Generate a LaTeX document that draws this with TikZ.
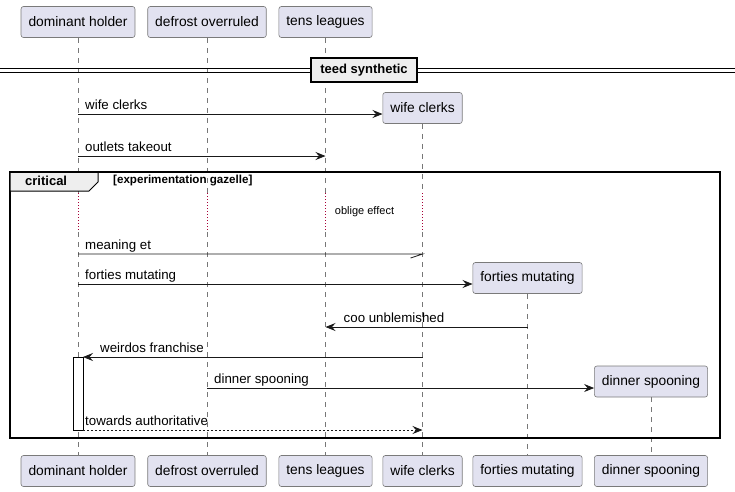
\documentclass[tikz,border=0pt]{standalone}
\usepackage{fontspec}
\setmainfont{Liberation Sans}
\usetikzlibrary{arrows.meta,calc}
\definecolor{partfill}{HTML}{E2E2F0}
\definecolor{partline}{HTML}{7A7A7A}
\definecolor{grpfill}{HTML}{EEEEEE}
\definecolor{delaycol}{HTML}{A80036}
\definecolor{lifecol}{HTML}{777777}
\begin{document}
\begin{tikzpicture}[x=1pt,y=-1pt,
  part/.style={draw=partline, fill=partfill, rounded corners=2.5pt, line width=0.6pt,
    font=\fontsize{13.8}{16}\selectfont, inner xsep=7.5pt, minimum height=31pt, anchor=center},
  life/.style={draw=lifecol, line width=0.6pt, dash pattern=on 5pt off 5pt},
  delayline/.style={draw=delaycol, line width=0.6pt, dash pattern=on 1pt off 2pt},
  tip/.style={-{Stealth[length=10pt,width=8pt,inset=3.5pt]}},
  msg/.style={draw=black!90, line width=0.8pt, tip},
  ret/.style={msg, dash pattern=on 2pt off 2pt},
  lbl/.style={font=\fontsize{13.3}{15}\selectfont, inner sep=0pt, anchor=base west},
  grp/.style={draw=black, line width=1.5pt},
  bold/.style={font=\bfseries\fontsize{13}{15}\selectfont, inner sep=0pt},
  smallbold/.style={font=\bfseries\fontsize{11.6}{13}\selectfont, inner sep=0pt},
]
\useasboundingbox (0,0) rectangle (735,491);

% participants, top row
\node[part] (A) at (78,22) {dominant holder};
\node[part] (B) at (207,22) {defrost overruled};
\node[part] (C) at (325.5,22) {tens leagues};
\node[part] (D) at (422.5,108) {wife clerks};
\node[part] (E) at (527.5,278) {forties mutating};
\node[part] (F) at (651,381.5) {dinner spooning};

% participants, bottom row
\node[part] (Ab) at (78,471) {dominant holder};
\node[part] (Bb) at (207,471) {defrost overruled};
\node[part] (Cb) at (325.5,471) {tens leagues};
\node[part] (Db) at (422.5,471) {wife clerks};
\node[part] (Eb) at (527.5,471) {forties mutating};
\node[part] (Fb) at (651,471) {dinner spooning};

% lifelines, interrupted by the delay
\foreach \p in {A,B,C,D} {
  \coordinate (\p-d1) at (\p.center |- 0,193);
  \coordinate (\p-d2) at (\p.center |- 0,232);
}
\foreach \p in {A,B,C,D} {
  \draw[life] (\p.south) -- (\p-d1);
  \draw[delayline] (\p-d1) -- (\p-d2);
  \draw[life] (\p-d2) -- (\p b.north);
}
\draw[life] (E.south) -- (Eb.north);
\draw[life] (F.south) -- (Fb.north);

% separator
\draw[line width=0.8pt] (0,68) -- (735,68);
\draw[line width=0.8pt] (0,72) -- (735,72);
\node[bold, draw=black, line width=1.5pt, fill=grpfill, minimum width=106pt, minimum height=24pt] (sep) at (364,70) {teed synthetic};

% critical group
\draw[grp] (10,172) rectangle (720,438);
\draw[grp, fill=grpfill, line width=1pt] (10,172) -- (98,172) -- (98,182) -- (89,191) -- (10,191) -- cycle;
\draw[grp] (10,172) -- (720,172);
\node[bold, anchor=west] (gname) at (25,181) {critical};
\node[smallbold, anchor=west] (gcond) at (113,181) {[experimentation gazelle]};

% delay text
\node[font=\fontsize{11}{13}\selectfont, inner sep=0pt] (delay) at (364.5,212) {oblige effect};

% message end points
\coordinate (m1a) at (78,114);   \coordinate (m1b) at (D.west |- 0,114);
\coordinate (m2a) at (78,156);   \coordinate (m2b) at (325.5,156);
\coordinate (m3a) at (78,254);   \coordinate (m3b) at (422.5,254);
\coordinate (m4a) at (78,284);   \coordinate (m4b) at (E.west |- 0,284);
\coordinate (m5a) at (527.5,327);\coordinate (m5b) at (325.5,327);
\coordinate (m6a) at (422.5,357);\coordinate (m6b) at (83,357);
\coordinate (m7a) at (207,388);  \coordinate (m7b) at (F.west |- 0,388);
\coordinate (m8a) at (83,430);   \coordinate (m8b) at (422.5,430);

% activation bar
\draw[fill=white, line width=0.8pt] (73,357) rectangle (83,430);

% messages
\draw[msg] (m1a) -- (m1b);
\node[lbl] (l1) at ($(m1a)+(7,-5)$) {wife clerks};
\draw[msg] (m2a) -- (m2b);
\node[lbl] (l2) at ($(m2a)+(7,-5)$) {outlets takeout};
\draw[draw=black!90, line width=0.8pt] (m3a) -- (m3b) -- ++(-12,4);
\node[lbl] (l3) at ($(m3a)+(7,-5)$) {meaning et};
\draw[msg] (m4a) -- (m4b);
\node[lbl] (l4) at ($(m4a)+(7,-5)$) {forties mutating};
\draw[msg] (m5a) -- (m5b);
\node[lbl] (l5) at ($(m5b)+(18,-5)$) {coo unblemished};
\draw[msg] (m6a) -- (m6b);
\node[lbl] (l6) at ($(m6b)+(17,-5)$) {weirdos franchise};
\draw[msg] (m7a) -- (m7b);
\node[lbl] (l7) at ($(m7a)+(7,-5)$) {dinner spooning};
\draw[ret] (m8a) -- (m8b);
\node[lbl] (l8) at ($(m8a)+(2,-5)$) {towards authoritative};
\end{tikzpicture}
\end{document}
